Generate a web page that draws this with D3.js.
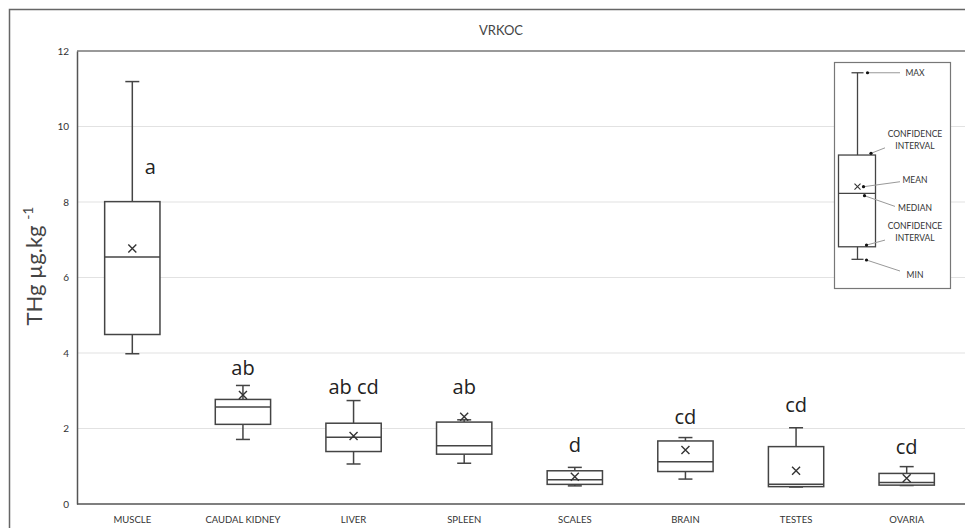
<!DOCTYPE html>
<html>
<head>
<meta charset="utf-8">
<script src="https://cdn.jsdelivr.net/npm/d3@7"></script>
<style>
  html, body { margin: 0; padding: 0; background: #fff; }
  svg { display: block; font-family: Lato, "Open Sans", sans-serif; }
</style>
</head>
<body>
<svg id="chart" width="965" height="528"></svg>
<script>
// ---- data ----
const title = "VRKOC";
const categories = ["MUSCLE", "CAUDAL KIDNEY", "LIVER", "SPLEEN", "SCALES", "BRAIN", "TESTES", "OVARIA"];
const minValues    = [3.98, 1.71, 1.06, 1.08, 0.48, 0.66, 0.45, 0.49];
const q1Values     = [4.49, 2.11, 1.39, 1.32, 0.52, 0.86, 0.46, 0.50];
const medianValues = [6.54, 2.57, 1.77, 1.54, 0.64, 1.12, 0.52, 0.57];
const meanValues   = [6.77, 2.89, 1.80, 2.31, 0.72, 1.43, 0.88, 0.68];
const q3Values     = [8.01, 2.77, 2.14, 2.17, 0.88, 1.67, 1.52, 0.81];
const maxValues    = [11.19, 3.14, 2.74, 2.23, 0.97, 1.76, 2.02, 0.99];
const groupLetters = ["a", "ab", "ab cd", "ab", "d", "cd", "cd", "cd"];
const letterValues = [8.74, 3.42, 2.92, 2.92, 1.38, 2.13, 2.44, 1.33];
const yTicks = [0, 2, 4, 6, 8, 10, 12];
// legend example box (illustrative values on its own scale)
const legendStats = { min: 0.94, q1: 1.51, median: 3.94, mean: 4.24, q3: 5.68, max: 9.42 };
const legendLabels = [
  { key: "max", lines: ["MAX"] },
  { key: "q3", lines: ["CONFIDENCE", "INTERVAL"] },
  { key: "mean", lines: ["MEAN"] },
  { key: "median", lines: ["MEDIAN"] },
  { key: "q1", lines: ["CONFIDENCE", "INTERVAL"] },
  { key: "min", lines: ["MIN"] }
];

// ---- layout ----
const svg = d3.select("#chart");
const plot = { left: 77, right: 962, top: 51, bottom: 504 };
const ink = "#444";

const x = d3.scaleBand().domain(categories).range([plot.left, plot.right]).padding(0);
const y = d3.scaleLinear().domain([0, 12]).range([plot.bottom, plot.top]);

const rows = categories.map((c, i) => ({
  cat: c, min: minValues[i], q1: q1Values[i], median: medianValues[i],
  mean: meanValues[i], q3: q3Values[i], max: maxValues[i],
  letter: groupLetters[i], letterY: letterValues[i], i
}));

// outer frame
svg.append("rect").attr("x", 9.5).attr("y", 9.5).attr("width", 980).attr("height", 540)
  .attr("fill", "none").attr("stroke", "#666").attr("stroke-width", 1.5);

// title
svg.append("text").attr("x", 501).attr("y", 35).attr("text-anchor", "middle")
  .attr("font-size", 13).attr("fill", "#444").text(title);

// gridlines
svg.append("g").selectAll("line").data(yTicks.filter(t => t > 0 && t < 12)).join("line")
  .attr("x1", plot.left).attr("x2", 965)
  .attr("y1", d => y(d)).attr("y2", d => y(d))
  .attr("stroke", "#e2e2e2").attr("stroke-width", 1.2);
// top line
svg.append("line").attr("x1", plot.left).attr("x2", 965).attr("y1", y(12)).attr("y2", y(12))
  .attr("stroke", "#777").attr("stroke-width", 1.5);

// y axis
const yAxis = d3.axisLeft(y).tickValues(yTicks).tickSize(0).tickPadding(8);
const gy = svg.append("g").attr("transform", `translate(${plot.left},0)`).call(yAxis);
gy.select(".domain").attr("stroke", "#555").attr("stroke-width", 1.5);
gy.selectAll("text").attr("font-size", 10).attr("fill", "#333").attr("font-family", "Lato, sans-serif");

// x axis
const xAxis = d3.axisBottom(x).tickSize(0).tickPadding(12);
const gx = svg.append("g").attr("transform", `translate(0,${plot.bottom})`).call(xAxis);
gx.select(".domain").attr("d", `M${plot.left},0H965`).attr("stroke", "#555").attr("stroke-width", 1.5);
gx.selectAll("text").attr("font-size", 9.5).attr("fill", "#333").attr("font-family", "Lato, sans-serif");

// y label
const yl = svg.append("text").attr("transform", `translate(42,266) rotate(-90)`)
  .attr("text-anchor", "middle").attr("font-size", 22).attr("fill", "#444");
yl.append("tspan").text("THg µg.kg ");
yl.append("tspan").attr("font-size", 14).attr("dy", -9).text("-1");

// boxes
const bw = x.bandwidth() * 0.5;
const capW = 14;
const g = svg.append("g").selectAll("g").data(rows).join("g")
  .attr("transform", d => `translate(${x(d.cat) + x.bandwidth() / 2},0)`);

g.append("line").attr("x1", 0).attr("x2", 0).attr("y1", d => y(d.max)).attr("y2", d => y(d.q3))
  .attr("stroke", ink).attr("stroke-width", 1.5);
g.append("line").attr("x1", 0).attr("x2", 0).attr("y1", d => y(d.q1)).attr("y2", d => y(d.min))
  .attr("stroke", ink).attr("stroke-width", 1.5);
g.append("line").attr("x1", -capW / 2).attr("x2", capW / 2).attr("y1", d => y(d.max)).attr("y2", d => y(d.max))
  .attr("stroke", ink).attr("stroke-width", 1.5);
g.append("line").attr("x1", -capW / 2).attr("x2", capW / 2).attr("y1", d => y(d.min)).attr("y2", d => y(d.min))
  .attr("stroke", ink).attr("stroke-width", 1.5);
g.append("rect").attr("x", -bw / 2).attr("width", bw)
  .attr("y", d => y(d.q3)).attr("height", d => y(d.q1) - y(d.q3))
  .attr("fill", "#fff").attr("stroke", ink).attr("stroke-width", 1.5);
g.append("line").attr("x1", -bw / 2).attr("x2", bw / 2).attr("y1", d => y(d.median)).attr("y2", d => y(d.median))
  .attr("stroke", ink).attr("stroke-width", 1.5);
// mean cross
const cs = 4;
g.append("path")
  .attr("d", d => `M${-cs},${y(d.mean) - cs}L${cs},${y(d.mean) + cs}M${-cs},${y(d.mean) + cs}L${cs},${y(d.mean) - cs}`)
  .attr("stroke", "#333").attr("stroke-width", 1.4).attr("fill", "none");
// letters
g.append("text").attr("x", d => d.i === 0 ? 18 : 0).attr("y", d => y(d.letterY))
  .attr("text-anchor", "middle").attr("font-size", 20).attr("fill", "#222")
  .attr("font-family", "'Open Sans', Lato, sans-serif")
  .text(d => d.letter);

// ---- legend ----
const lg = svg.append("g");
lg.append("rect").attr("x", 834.5).attr("y", 62.5).attr("width", 116).attr("height", 226)
  .attr("fill", "#fff").attr("stroke", "#777").attr("stroke-width", 1.2);
const ly = d3.scaleLinear().domain([0, 10]).range([280, 60]);
const lx = 857.5, lbw = 37, lcap = 12;
lg.append("line").attr("x1", lx).attr("x2", lx).attr("y1", ly(legendStats.max)).attr("y2", ly(legendStats.q3)).attr("stroke", ink).attr("stroke-width", 1.3);
lg.append("line").attr("x1", lx).attr("x2", lx).attr("y1", ly(legendStats.q1)).attr("y2", ly(legendStats.min)).attr("stroke", ink).attr("stroke-width", 1.3);
[legendStats.max, legendStats.min].forEach(v => lg.append("line").attr("x1", lx - lcap / 2).attr("x2", lx + lcap / 2)
  .attr("y1", ly(v)).attr("y2", ly(v)).attr("stroke", ink).attr("stroke-width", 1.3));
lg.append("rect").attr("x", lx - 19).attr("width", lbw).attr("y", ly(legendStats.q3)).attr("height", ly(legendStats.q1) - ly(legendStats.q3))
  .attr("fill", "none").attr("stroke", ink).attr("stroke-width", 1.3);
lg.append("line").attr("x1", lx - 19).attr("x2", lx + 18).attr("y1", ly(legendStats.median)).attr("y2", ly(legendStats.median)).attr("stroke", ink).attr("stroke-width", 1.3);
const lcs = 3;
lg.append("path").attr("d", `M${lx - lcs},${ly(legendStats.mean) - lcs}L${lx + lcs},${ly(legendStats.mean) + lcs}M${lx - lcs},${ly(legendStats.mean) + lcs}L${lx + lcs},${ly(legendStats.mean) - lcs}`)
  .attr("stroke", "#333").attr("stroke-width", 1.1);

// annotation geometry (dot offsets relative to the legend box)
const dotX = { max: 10, q3: 13.5, mean: 6, median: 7, q1: 9, min: 9 };
const dotDy = { max: 0, q3: -1.7, mean: 0, median: 2.4, q1: -1.7, min: 0.7 };
const lineEnd = { max: [900, 0], q3: [885, -5.5], mean: [900, -5], median: [895, 10.7], q1: [885, -5], min: [900, 11] };
const textY = { max: 0, q3: -13, mean: -6.7, median: 12.4, q1: -12.7, min: 15 };
legendLabels.forEach(l => {
  const vy = ly(legendStats[l.key]) + dotDy[l.key];
  const dx = lx + dotX[l.key];
  lg.append("line").attr("x1", dx).attr("y1", vy).attr("x2", lineEnd[l.key][0]).attr("y2", vy + lineEnd[l.key][1])
    .attr("stroke", "#999").attr("stroke-width", 1);
  lg.append("circle").attr("cx", dx).attr("cy", vy).attr("r", 1.6).attr("fill", "#111");
  const t = lg.append("text").attr("x", 915).attr("y", vy + textY[l.key] + 3)
    .attr("text-anchor", "middle").attr("font-size", 8.5).attr("fill", "#333");
  l.lines.forEach((s, k) => t.append("tspan").attr("x", 915).attr("dy", k === 0 ? (l.lines.length > 1 ? -6 : 0) : 12).text(s));
});
</script>
</body>
</html>
